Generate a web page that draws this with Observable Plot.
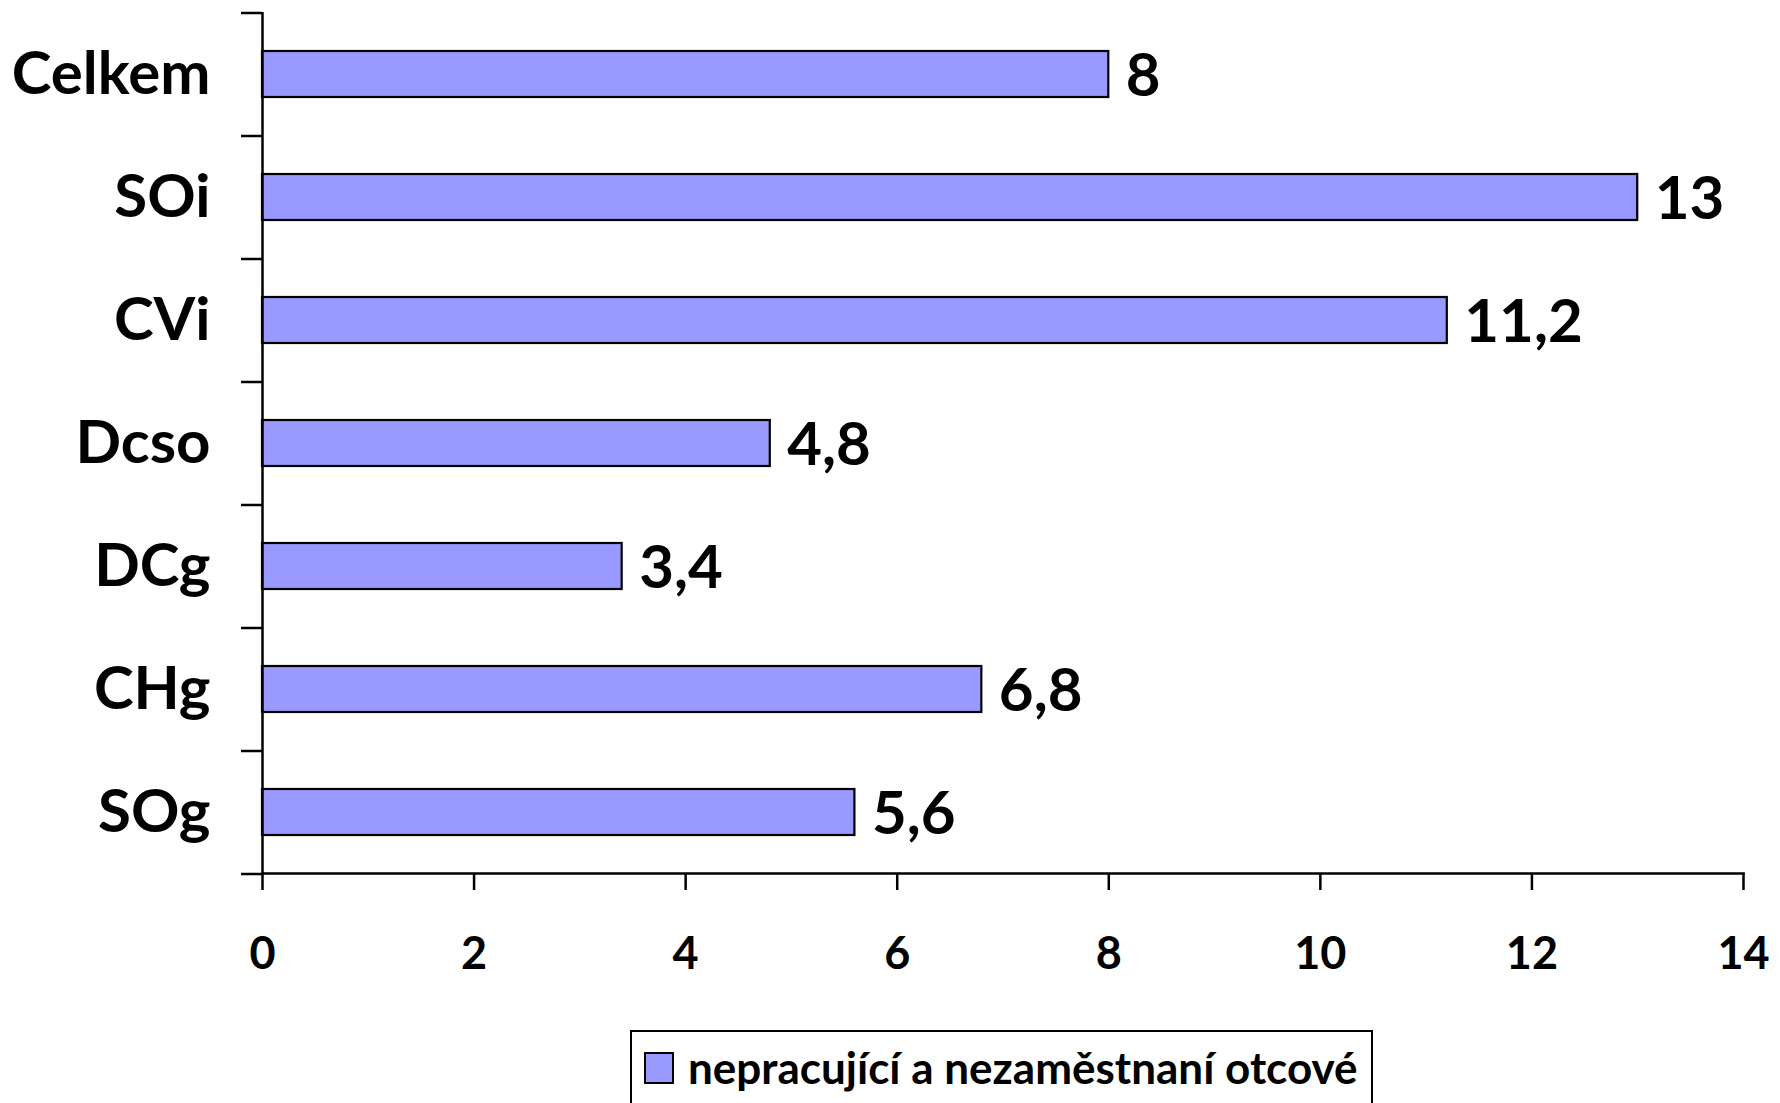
<!DOCTYPE html>
<html>
<head>
<meta charset="utf-8">
<script src="https://cdn.jsdelivr.net/npm/d3@7"></script>
<script src="https://cdn.jsdelivr.net/npm/@observablehq/plot@0.6"></script>
<style>
  html, body { margin: 0; padding: 0; background: white; overflow: hidden; }
  body { width: 1780px; height: 1103px; position: relative;
         font-family: Lato, "Open Sans", sans-serif; color: black; }
  #chart { position: absolute; left: 0; top: 0; }
  #legend { position: absolute; left: 630px; top: 1030px; width: 743px; height: 120px;
            border: 2px solid black; box-sizing: border-box; background: white; }
  #legend .sw { position: absolute; left: 12px; top: 20px; width: 30px; height: 32px;
                background: #9999FF; border: 2px solid black; box-sizing: border-box; }
  #legend .lbl { position: absolute; left: 56px; top: 8px; font-size: 44px; font-weight: bold;
                 white-space: nowrap; line-height: 54px; }
</style>
</head>
<body>
<div id="chart"></div>
<div id="legend"><div class="sw"></div><div class="lbl" id="lbl"></div></div>
<script>
const categories = ["Celkem", "SOi", "CVi", "Dcso", "DCg", "CHg", "SOg"];
const values = [8, 13, 11.2, 4.8, 3.4, 6.8, 5.6];
const xTicks = [0, 2, 4, 6, 8, 10, 12, 14];
const seriesName = "nepracující a nezaměstnaní otcové";

const data = categories.map((c, i) => ({category: c, value: values[i]}));

const W = 1780, H = 1000, mt = 12, mb = H - 873, ml = 262, mr = 1780 - 1743;
const step = (H - mt - mb) / categories.length;
const fmt = v => String(v).replace(".", ",");

const chart = Plot.plot({
  width: W,
  height: H,
  marginTop: mt,
  marginBottom: mb,
  marginLeft: ml,
  marginRight: mr,
  style: {fontFamily: 'Lato, "Open Sans", sans-serif', background: "white", color: "black", overflow: "visible"},
  x: {domain: [0, 14]},
  y: {domain: categories, paddingInner: 0.63, paddingOuter: 0.315, align: 0.5},
  marks: [
    Plot.barX(data, {x: "value", y: "category", fill: "#9999FF", stroke: "black", strokeWidth: 2.2}),
    Plot.ruleX([0], {stroke: "black", strokeWidth: 2.5}),
    Plot.frame({anchor: "bottom", stroke: "black", strokeWidth: 2.5}),
    Plot.axisX(xTicks, {tickSize: 17, tickPadding: 47, fontSize: 45, fontWeight: "bold", label: null, strokeWidth: 2.5, tickFormat: d => String(d)}),
    Plot.axisY({tickSize: 0, tickPadding: 52, fontSize: 60, fontWeight: "bold", label: null}),
    Plot.axisY(categories, {tickSize: 21, dy: -step / 2, tickFormat: () => "", label: null, strokeWidth: 2.5}),
    Plot.axisY([categories[categories.length - 1]], {tickSize: 21, dy: step / 2, tickFormat: () => "", label: null, strokeWidth: 2.5}),
    Plot.text(data, {x: "value", y: "category", text: d => fmt(d.value), textAnchor: "start", dx: 17, dy: 2, fontSize: 60, fontWeight: "bold", fill: "black"})
  ]
});
document.getElementById("chart").appendChild(chart);
document.getElementById("lbl").textContent = seriesName;
</script>
</body>
</html>
